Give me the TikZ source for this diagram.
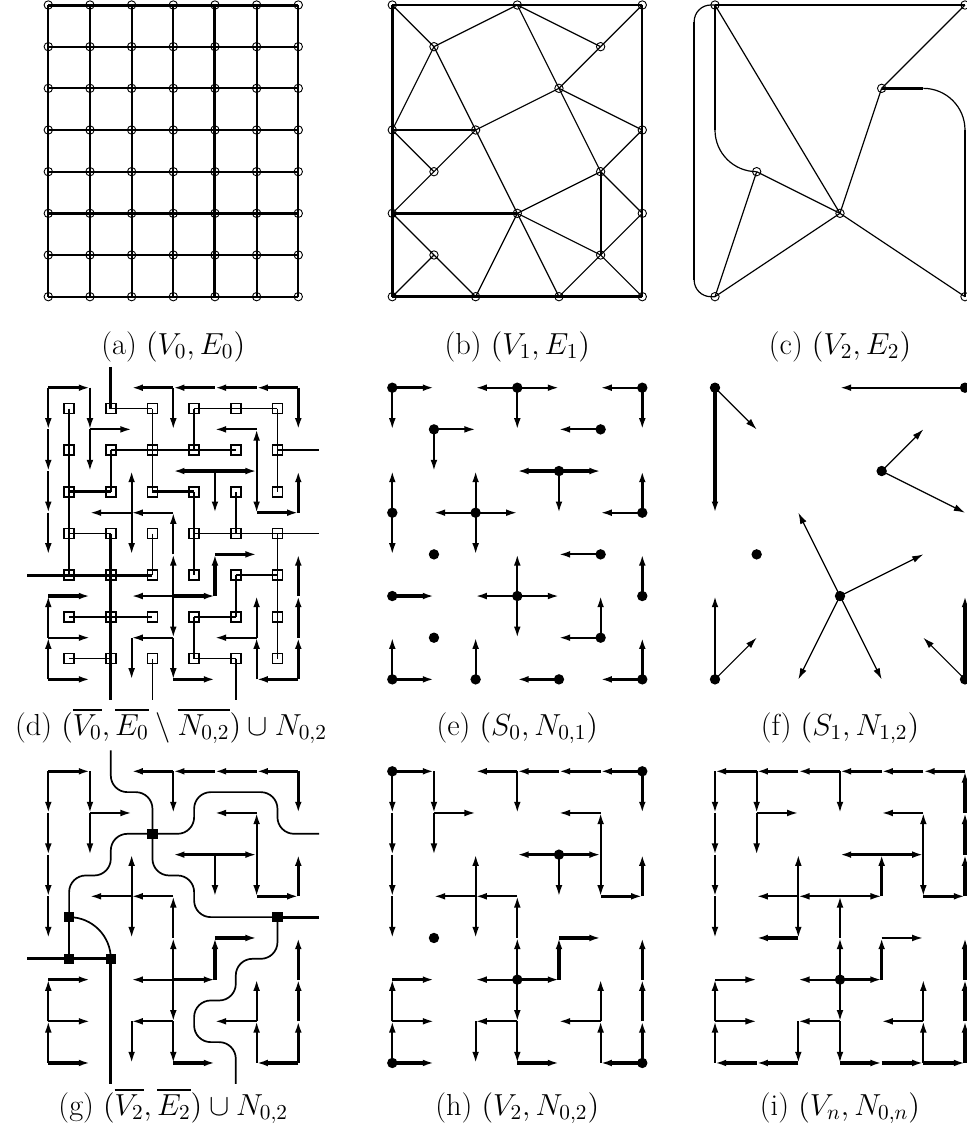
\documentclass[tikz,border=0pt]{standalone}
\usepackage{fix-cm}
\usepackage{amsmath,amssymb}
\usetikzlibrary{arrows.meta}

% arcs of N_{0,2} and N_{0,n}, written as colrow/colrow
\newcommand{\ntwothin}{10/11,11/12,11/21,00/01,01/02,02/03,03/04,30/31,51/41,52/51,52/53,42/43,33/23,23/13,23/22,23/24,34/33,35/34,35/25,35/36,36/26,26/27,36/37,07/06,06/05,06/16,57/56,56/55,56/46}
\newcommand{\ntwothick}{00/10,60/50,50/40,40/30,30/20,60/61,42/32,42/52,53/63,63/62,35/45,45/44,44/54,37/47,05/15,07/17,67/66,66/65,65/64,67/57}
\newcommand{\nnthin}{00/01,01/02,02/03,03/04,10/11,11/12,11/21,30/31,51/41,52/51,52/53,33/43,33/23,23/13,23/22,23/24,34/33,35/34,35/25,44/54,35/36,36/37,36/26,26/27,07/06,06/05,05/15,06/16,57/56,56/55,56/46}
\newcommand{\nnthick}{60/50,50/40,40/30,30/20,20/10,10/00,53/63,63/62,62/61,61/60,42/32,42/52,43/42,24/14,35/45,45/44,27/17,17/07,37/47,47/57,57/67,67/66,66/65,65/64}

\begin{document}
\begin{tikzpicture}[x=0.5pt, y=-0.5pt,
    panel/.style={shift={#1}, x=20.833pt, y=-20.833pt},
    vtx/.style={circle, draw, inner sep=0pt, minimum size=4.2pt, line width=0.45pt},
    vdot/.style={circle, fill, inner sep=0pt, minimum size=5.2pt},
    osq/.style={rectangle, draw, inner sep=0pt, minimum size=5pt, line width=0.8pt},
    fsq/.style={rectangle, fill, inner sep=0pt, minimum size=5.2pt},
    thinedge/.style={line width=0.6pt},
    boldedge/.style={line width=1.2pt},
    gline/.style={line width=1pt},
    tgline/.style={line width=1.5pt},
    arr/.style={-{Latex[length=5.6pt,width=3.4pt]}, line width=1pt},
    tarr/.style={arr, line width=1.6pt},
    narr/.style={arr, line width=0.6pt},
    dual/.style={line width=0.85pt},
    tdual/.style={line width=1.6pt},
    lbl/.style={anchor=base, font=\fontsize{15.2}{18}\selectfont}
  ]
  \useasboundingbox (0,0) rectangle (966,1137);

  % (a) the grid
  \begin{scope}[panel={(48.3,5)}]
    \foreach \i in {0,...,6} \foreach \j in {0,...,7} \node[vtx] (a\i\j) at (\i,\j) {};
    \foreach \j in {1,2,3,4,6,7} \draw[gline] (a0\j.center) -- (a6\j.center);
    \foreach \j in {0,5} \draw[tgline] (a0\j.center) -- (a6\j.center);
    \foreach \i in {0,1,2,3,5,6} \draw[gline] (a\i0.center) -- (a\i7.center);
    \draw[tgline] (a40.center) -- (a47.center);
  \end{scope}

  % (b)
  \begin{scope}[panel={(392.3,5)}]
    \foreach \i/\j in {0/0,3/0,6/0,1/1,5/1,4/2,0/3,2/3,6/3,1/4,5/4,0/5,3/5,6/5,1/6,5/6,0/7,2/7,4/7,6/7}
      \node[vtx] (b\i\j) at (\i,\j) {};
    \foreach \s/\t in {00/11,11/30,30/51,51/60,11/03,11/23,30/42,42/51,23/42,42/63,42/54,03/14,14/23,23/35,14/05,63/54,54/35,54/65,35/56,35/27,35/47,05/16,16/07,16/27,56/47,56/67,56/65}
      \draw[thinedge] (b\s.center) -- (b\t.center);
    \draw[gline] (b54.center) -- (b56.center);
    \foreach \s/\t in {00/60,60/67,67/07,07/00,03/23,05/35}
      \draw[boldedge] (b\s.center) -- (b\t.center);
  \end{scope}

  % (c)
  \begin{scope}[panel={(715,5)}]
    \foreach \i/\j in {0/0,6/0,4/2,1/4,3/5,0/7,6/7}
      \node[vtx] (c\i\j) at (\i,\j) {};
    \coordinate (cb1) at (0,3);
    \coordinate (cb2) at (5,2);
    \coordinate (cb3) at (6,3);
    \coordinate (cl1) at (-0.5,0.4);
    \coordinate (cl2) at (-0.5,6.6);
    \draw[boldedge] (c00.center) -- (c60.center);
    \foreach \s/\t in {00/35,60/42,42/35,14/35,14/07,07/35,35/67}
      \draw[thinedge] (c\s.center) -- (c\t.center);
    \draw[boldedge] (c00.center) -- (cb1);
    \draw[thinedge] (cb1) .. controls (0,3.552) and (0.448,4) .. (c14.center);
    \draw[boldedge] (c42.center) -- (cb2);
    \draw[thinedge] (cb2) .. controls (5.552,2) and (6,2.448) .. (cb3);
    \draw[boldedge] (cb3) -- (c67.center);
    \draw[thinedge, rounded corners=8.3pt] (c00.center) -- (-0.5,0) -- (-0.5,7) -- (c07.center);
    \draw[boldedge] (cl1) -- (cl2);
  \end{scope}

  % (d)
  \begin{scope}[panel={(48.3,387.7)}]
    \foreach \i in {0,...,6} \foreach \j in {0,...,7} \coordinate (d\i\j) at (\i,\j);
    \foreach \i in {0,...,5} \foreach \j in {0,...,6} \node[osq] (q\i\j) at (\i+0.5,\j+0.5) {};
    \coordinate (qn1) at (1.5,-0.5);
    \coordinate (qn2) at (6.5,1.5);
    \coordinate (qn3) at (6.5,3.5);
    \coordinate (qn4) at (-0.5,4.5);
    \coordinate (qn5) at (1.5,7.5);
    \coordinate (qn6) at (2.5,7.5);
    \coordinate (qn7) at (4.5,7.5);
    \foreach \s/\t in {00/04,10/20,20/22,30/50,30/31,50/52,11/41,11/12,32/34,42/43,03/13,23/24,53/56,44/54,44/45,05/25,35/45,35/36,06/16,36/46}
      \draw[dual] (q\s.center) -- (q\t.center);
    \foreach \s/\t in {02/12,22/32}
      \draw[tdual] (q\s.center) -- (q\t.center);
    \draw[tdual] (qn1) -- (q10.center);
    \draw[dual] (q51.center) -- (qn2);
    \draw[dual] (q33.center) -- (qn3);
    \draw[tdual] (qn4) -- (q24.center);
    \draw[tdual] (q13.center) -- (qn5);
    \draw[dual] (q26.center) -- (qn6);
    \draw[dual] (q46.center) -- (qn7);
    \foreach \s/\t in \ntwothin {\draw[arr] (d\s) -- (d\t);}
    \foreach \s/\t in \ntwothick {\draw[tarr] (d\s) -- (d\t);}
  \end{scope}

  % (e)
  \begin{scope}[panel={(392.3,387.7)}]
    \foreach \i in {0,...,6} \foreach \j in {0,...,7} \coordinate (e\i\j) at (\i,\j);
    \foreach \s/\t in {00/01,30/20,30/40,30/31,60/50,11/21,11/12,51/41,42/43,03/02,03/04,23/13,23/33,23/22,23/24,63/53,54/44,35/25,35/45,35/34,35/36,56/55,56/46,07/06,27/26}
      \draw[arr] (e\s) -- (e\t);
    \foreach \s/\t in {00/10,60/61,42/32,42/52,63/62,05/15,65/64,07/17,47/37,67/66,67/57}
      \draw[tarr] (e\s) -- (e\t);
    \foreach \i/\j in {0/0,3/0,6/0,1/1,5/1,4/2,0/3,2/3,6/3,1/4,5/4,0/5,3/5,6/5,1/6,5/6,0/7,2/7,4/7,6/7}
      \node[vdot] (es\i\j) at (e\i\j) {};
  \end{scope}

  % (f)
  \begin{scope}[panel={(715,387.7)}]
    \foreach \i in {0,...,6} \foreach \j in {0,...,7} \coordinate (f\i\j) at (\i,\j);
    \foreach \s/\t in {00/03,67/65} \draw[tarr] (f\s) -- (f\t);
    \foreach \s/\t in {60/30,07/05} \draw[arr] (f\s) -- (f\t);
    \foreach \s/\t in {00/11,42/51,42/63,35/23,35/54,35/27,35/47,07/16,67/56}
      \draw[narr] (f\s) -- (f\t);
    \foreach \i/\j in {0/0,6/0,4/2,1/4,3/5,0/7,6/7}
      \node[vdot] (fs\i\j) at (f\i\j) {};
  \end{scope}

  % (g)
  \begin{scope}[panel={(48.3,771.3)}]
    \foreach \i in {0,...,6} \foreach \j in {0,...,7} \coordinate (g\i\j) at (\i,\j);
    \foreach \s/\t in \ntwothin {\draw[arr] (g\s) -- (g\t);}
    \foreach \s/\t in \ntwothick {\draw[tarr] (g\s) -- (g\t);}
    \node[fsq] (r1) at (2.5,1.5) {};
    \node[fsq] (r2) at (0.5,3.5) {};
    \node[fsq] (r3) at (5.5,3.5) {};
    \node[fsq] (r4) at (0.5,4.5) {};
    \node[fsq] (r5) at (1.5,4.5) {};
    \coordinate (rn1) at (1.5,-0.5);
    \coordinate (rn2) at (6.5,1.5);
    \coordinate (rn3) at (6.5,3.5);
    \coordinate (rn4) at (-0.5,4.5);
    \coordinate (rn5) at (1.5,7.5);
    \coordinate (rn6) at (4.5,7.5);
    \draw[dual, rounded corners=8.3pt] (rn1) -- (1.5,0.5) -- (2.5,0.5) -- (r1.center);
    \draw[dual, rounded corners=8.3pt] (r1.center) -- (1.5,1.5) -- (1.5,2.5) -- (0.5,2.5) -- (r2.center);
    \draw[dual, rounded corners=8.3pt] (r1.center) -- (3.5,1.5) -- (3.5,0.5) -- (5.5,0.5) -- (5.5,1.5) -- (rn2);
    \draw[dual, rounded corners=8.3pt] (r1.center) -- (2.5,2.5) -- (3.5,2.5) -- (3.5,3.5) -- (r3.center);
    \draw[dual, rounded corners=8.3pt] (r3.center) -- (5.5,4.5) -- (4.5,4.5) -- (4.5,5.5) -- (3.5,5.5) -- (3.5,6.5) -- (4.5,6.5) -- (rn6);
    \draw[tdual] (r3.center) -- (rn3);
    \draw[dual] (r2.center) -- (r4.center);
    \draw[dual] (r2.center) .. controls (1.052,3.5) and (1.5,3.948) .. (r5.center);
    \draw[tdual] (rn4) -- (r4.center) -- (r5.center);
    \draw[tdual] (r5.center) -- (rn5);
  \end{scope}

  % (h)
  \begin{scope}[panel={(392.3,771.3)}]
    \foreach \i in {0,...,6} \foreach \j in {0,...,7} \coordinate (h\i\j) at (\i,\j);
    \foreach \s/\t in \ntwothin {\draw[arr] (h\s) -- (h\t);}
    \foreach \s/\t in \ntwothick {\draw[tarr] (h\s) -- (h\t);}
    \foreach \i/\j in {0/0,6/0,4/2,1/4,3/5,0/7,6/7}
      \node[vdot] (hs\i\j) at (h\i\j) {};
  \end{scope}

  % (i)
  \begin{scope}[panel={(715,771.3)}]
    \foreach \i in {0,...,6} \foreach \j in {0,...,7} \coordinate (i\i\j) at (\i,\j);
    \foreach \s/\t in \nnthin {\draw[arr] (i\s) -- (i\t);}
    \foreach \s/\t in \nnthick {\draw[tarr] (i\s) -- (i\t);}
    \node[vdot] (is35) at (i35) {};
  \end{scope}

  \node[lbl] (la) at (173.3,354) {(a) $(V_0,E_0)$};
  \node[lbl] (lb) at (517.3,354) {(b) $(V_1,E_1)$};
  \node[lbl] (lc) at (840,354) {(c) $(V_2,E_2)$};
  \node[lbl] (ld) at (171,735) {(d) $(\overline{V_0},\overline{E_0}\setminus\overline{N_{0,2}})\cup N_{0,2}$};
  \node[lbl] (le) at (517.3,735) {(e) $(S_0,N_{0,1})$};
  \node[lbl] (lf) at (840,735) {(f) $(S_1,N_{1,2})$};
  \node[lbl] (lg) at (173.3,1115) {(g) $(\overline{V_2},\overline{E_2})\cup N_{0,2}$};
  \node[lbl] (lh) at (517.3,1115) {(h) $(V_2,N_{0,2})$};
  \node[lbl] (li) at (840,1115) {(i) $(V_n,N_{0,n})$};
\end{tikzpicture}
\end{document}
